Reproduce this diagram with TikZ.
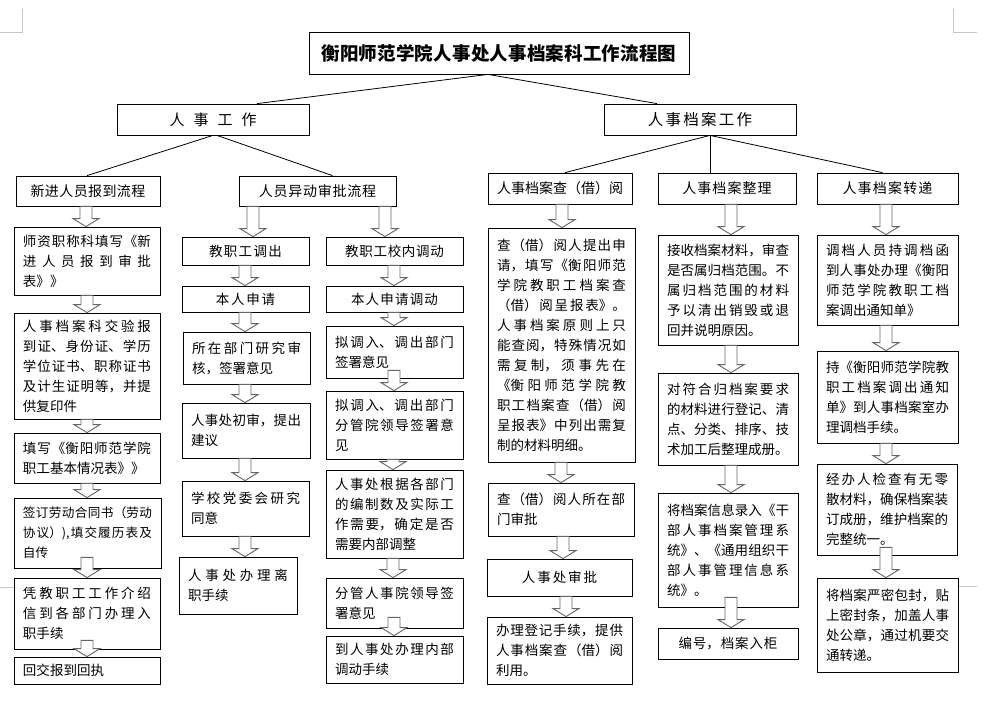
\documentclass[tikz,border=0pt]{standalone}
\usepackage{fontspec}
\setmainfont{Noto Sans CJK SC}
\usetikzlibrary{calc}
\XeTeXlinebreaklocale "zh"
\XeTeXlinebreakskip=0pt plus 2pt
\tolerance=10000
\hbadness=10000
\setlength\parindent{0pt}
\newcommand\jbr{\linebreak}
\def\bpad{9}
\tikzset{
  bx/.style={draw, line width=0.8pt, fill=white, inner ysep=2pt, align=justify,
    font=\fontsize{13.5}{20}\selectfont},
  hd/.style={align=center, font=\fontsize{14}{18}\selectfont},
  ln/.style={line width=0.8pt},
  harr/.style={draw=black!60, fill=white, line width=0.9pt, line join=miter},
  crop/.style={draw=black!22, line width=0.7pt}
}
\newcommand\bnode[7][]{%
  \pgfmathsetmacro\bw{#5-#3}%
  \pgfmathsetmacro\bh{#6-#4}%
  \pgfmathsetmacro\tw{#5-#3-2*\bpad}%
  \node[bx, minimum width=\bw pt, minimum height=\bh pt, text width=\tw pt,
        inner xsep=\bpad pt, #1] (#2) at ({(#3+#5)/2},{(#4+#6)/2}) {#7};}
\newcommand\harrow[4][0]{%
  \draw[harr] let \p1=(#3.south), \p2=(#4.north) in
   ({#2pt-6pt},{\y1+#1pt}) -- ({#2pt-6pt},{\y2+8pt}) -- ({#2pt-13pt},{\y2+8pt})
   -- ({#2pt},\y2) -- ({#2pt+13pt},{\y2+8pt}) -- ({#2pt+6pt},{\y2+8pt})
   -- ({#2pt+6pt},{\y1+#1pt}) -- cycle;}
\begin{document}
\begin{tikzpicture}[x=1pt,y=-1pt]
\fill[white] (0,0) rectangle (985,707);
\useasboundingbox (0,0) rectangle (985,707);
% page marks
\draw[crop] (0,32) -- (22,32) -- (22,9);
\draw[crop] (953,9) -- (953,32) -- (977,32);
\draw[crop] (0,587) -- (14,587);
\draw[crop] (958,586) -- (977,586);
% top levels
\bnode[align=center, font=\fontsize{18.5}{22}\selectfont\bfseries]{title}{309}{32}{689}{74}{衡阳师范学院人事处人事档案科工作流程图}
\bnode[align=center, font=\fontsize{15}{18}\selectfont]{w1}{117}{104}{309}{135}{人\hspace{9pt}事\hspace{9pt}工\hspace{9pt}作}
\bnode[align=center, font=\fontsize{15.5}{18}\selectfont]{w2}{604}{104}{796}{135}{人事档案工作}
\bnode[hd]{h1}{16}{176}{160}{206}{新进人员报到流程}
\bnode[hd]{h2}{239}{176}{396}{206}{人员异动审批流程}
\bnode[hd]{h3}{488}{173}{632}{204}{人事档案查（借）阅}
\bnode[hd]{h4}{658}{173}{796}{204}{人事档案整理}
\bnode[hd]{h5}{817}{173}{958}{204}{人事档案转递}
% column 1
\bnode{a1}{14}{227}{160}{295}{师资职称科填写《新\jbr 进人员报到审批\jbr 表》》}
\bnode{a2}{14}{313}{160}{419}{人事档案科交验报\jbr 到证、身份证、学历\jbr 学位证书、职称证书\jbr 及计生证明等，并提\jbr 供复印件}
\bnode{a3}{14}{433}{160}{483}{填写《衡阳师范学院\jbr 职工基本情况表》》}
\bnode[font=\fontsize{12.6}{20}\selectfont]{a4}{14}{498}{161}{568}{签订劳动合同书（劳动\jbr 协议）),填交履历表及\jbr 自传}
\bnode{a5}{14}{578}{160}{649}{凭教职工工作介绍\jbr 信到各部门办理入\jbr 职手续}
\bnode{a6}{14}{657}{160}{684}{回交报到回执}
% column 2 left
\bnode[align=center]{b1}{182}{237}{309}{265}{教职工调出}
\bnode[align=center]{b2}{182}{286}{309}{312}{本人申请}
\bnode{b3}{183}{332}{310}{384}{所在部门研究审\jbr 核，签署意见}
\bnode{b4}{182}{403}{310}{458}{人事处初审，提出\jbr 建议}
\bnode{b5}{182}{481}{309}{536}{学校党委会研究\jbr 同意}
\bnode{b6}{179}{557}{297}{614}{人事处办理离\jbr 职手续}
% column 2 right
\bnode[align=center]{c1}{326}{237}{463}{265}{教职工校内调动}
\bnode[align=center]{c2}{326}{286}{463}{312}{本人申请调动}
\bnode{c3}{326}{326}{463}{378}{拟调入、调出部门\jbr 签署意见}
\bnode{c4}{326}{391}{463}{459}{拟调入、调出部门\jbr 分管院领导签署意\jbr 见}
\bnode{c5}{326}{470}{463}{558}{人事处根据各部门\jbr 的编制数及实际工\jbr 作需要，确定是否\jbr 需要内部调整}
\bnode{c6}{326}{578}{463}{628}{分管人事院领导签\jbr 署意见}
\bnode{c7}{326}{636}{463}{683}{到人事处办理内部\jbr 调动手续}
% column 3
\bnode{d1}{488}{228}{635}{462}{查（借）阅人提出申\jbr 请，填写《衡阳师范\jbr 学院教职工档案查\jbr （借）阅呈报表》。\jbr 人事档案原则上只\jbr 能查阅，特殊情况如\jbr 需复制，须事先在\jbr 《衡阳师范学院教\jbr 职工档案查（借）阅\jbr 呈报表》中列出需复\jbr 制的材料明细。}
\bnode{d2}{488}{483}{634}{536}{查（借）阅人所在部\jbr 门审批}
\bnode[align=center]{d3}{487}{559}{632}{596}{人事处审批}
\bnode{d4}{487}{617}{632}{684}{办理登记手续，提供\jbr 人事档案查（借）阅\jbr 利用。}
% column 4
\bnode{e1}{658}{235}{798}{345}{接收档案材料，审查\jbr 是否属归档范围。不\jbr 属归档范围的材料\jbr 予以清出销毁或退\jbr 回并说明原因。}
\bnode{e2}{658}{373}{798}{465}{对符合归档案要求\jbr 的材料进行登记、清\jbr 点、分类、排序、技\jbr 术加工后整理成册。}
\bnode{e3}{658}{493}{798}{607}{将档案信息录入《干\jbr 部人事档案管理系\jbr 统》、《通用组织干\jbr 部人事管理信息系\jbr 统》。}
\bnode[align=center]{e4}{658}{628}{798}{659}{编号，档案入柜}
% column 5
\bnode{f1}{817}{235}{958}{325}{调档人员持调档函\jbr 到人事处办理《衡阳\jbr 师范学院教职工档\jbr 案调出通知单》}
\bnode{f2}{817}{351}{958}{443}{持《衡阳师范学院教\jbr 职工档案调出通知\jbr 单》到人事档案室办\jbr 理调档手续。}
\bnode{f3}{817}{464}{957}{555}{经办人检查有无零\jbr 散材料，确保档案装\jbr 订成册，维护档案的\jbr 完整统一。}
\bnode{f4}{817}{578}{958}{672}{将档案严密包封，贴\jbr 上密封条，加盖人事\jbr 处公章，通过机要交\jbr 通转递。}
% tree lines
\coordinate (tb) at ([xshift=-11pt]title.south);
\draw[ln] (tb) -- ([xshift=44pt]w1.north);
\draw[ln] (tb) -- ([xshift=-43pt]w2.north);
\draw[ln] (w1.south) -- ([xshift=-1pt]h1.north);
\draw[ln] ([xshift=4pt]w1.south) -- ([xshift=15pt]h2.north);
\coordinate (wb) at ([xshift=10pt]w2.south);
\draw[ln] (wb) -- ([xshift=5pt]h3.north);
\draw[ln] (wb) -- ([xshift=-17pt]h4.north);
\draw[ln] (wb) -- ([xshift=-5pt]h5.north);
% hollow arrows
\harrow{86}{h1}{a1}
\harrow{87}{a1}{a2}
\harrow{87}{a2}{a3}
\harrow{87}{a3}{a4}
\harrow[11]{87}{a4}{a5}
\harrow[9]{87}{a5}{a6}
\harrow{253}{h2}{b1}
\harrow{385}{h2}{c1}
\harrow{245}{b1}{b2}
\harrow{245}{b2}{b3}
\harrow{245}{b3}{b4}
\harrow{245}{b4}{b5}
\harrow{245}{b5}{b6}
\harrow{394}{c1}{c2}
\harrow{394}{c2}{c3}
\harrow[8]{394}{c3}{c4}
\harrow{393}{c4}{c5}
\harrow{393}{c5}{c6}
\harrow[11]{394}{c6}{c7}
\harrow{562}{h3}{d1}
\harrow{561}{d1}{d2}
\harrow{563}{d2}{d3}
\harrow{566}{d3}{d4}
\harrow{731}{h4}{e1}
\harrow{731}{e1}{e2}
\harrow{731}{e2}{e3}
\harrow[10]{731}{e3}{e4}
\harrow{886}{h5}{f1}
\harrow{886}{f1}{f2}
\harrow{886}{f2}{f3}
\harrow[8]{886}{f3}{f4}
\end{tikzpicture}
\end{document}
